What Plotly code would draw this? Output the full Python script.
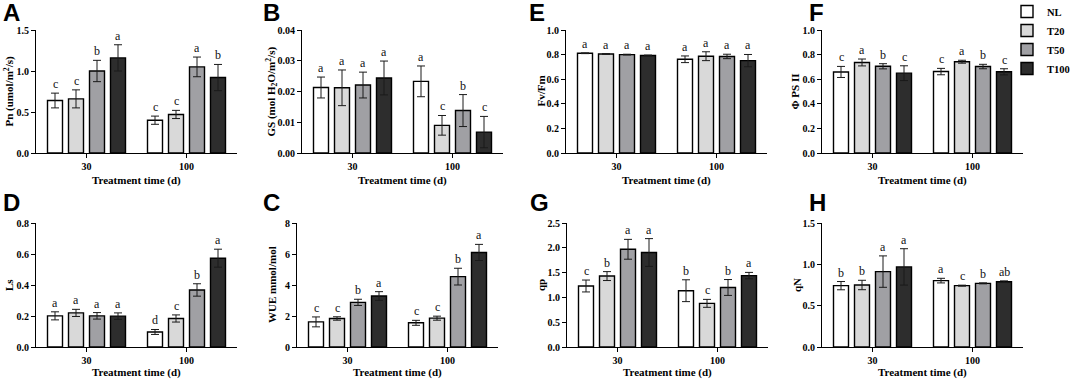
import plotly.graph_objects as go

W, H = 1072, 379

groups = ["30", "100"]
treatments = ["NL", "T20", "T50", "T100"]
fill_colors = ["#ffffff", "#d9d9d9", "#a0a0a4", "#2d2d2d"]

# Each list: one row per treatment (NL, T20, T50, T100), columns = groups (30 d, 100 d)
pn_mean = [[0.64, 0.40], [0.66, 0.47], [1.00, 1.05], [1.16, 0.92]]
pn_err = [[0.09, 0.05], [0.11, 0.05], [0.13, 0.12], [0.16, 0.16]]
pn_sig = [["c", "c"], ["c", "c"], ["b", "a"], ["a", "b"]]

gs_mean = [[0.0213, 0.0233], [0.0212, 0.0090], [0.0221, 0.0138], [0.0244, 0.0068]]
gs_err = [[0.0034, 0.0050], [0.0058, 0.0032], [0.0042, 0.0052], [0.0055, 0.0051]]
gs_sig = [["a", "a"], ["a", "c"], ["a", "b"], ["a", "c"]]

fvfm_mean = [[0.811, 0.762], [0.805, 0.787], [0.800, 0.785], [0.793, 0.751]]
fvfm_err = [[0.003, 0.027], [0.003, 0.036], [0.003, 0.018], [0.003, 0.050]]
fvfm_sig = [["a", "a"], ["a", "a"], ["a", "a"], ["a", "a"]]

phi_mean = [[0.659, 0.662], [0.736, 0.742], [0.705, 0.703], [0.649, 0.660]]
phi_err = [[0.045, 0.026], [0.028, 0.012], [0.021, 0.018], [0.060, 0.025]]
phi_sig = [["c", "c"], ["a", "a"], ["b", "b"], ["c", "c"]]

ls_mean = [[0.201, 0.097], [0.220, 0.184], [0.201, 0.368], [0.199, 0.573]]
ls_err = [[0.026, 0.016], [0.023, 0.023], [0.021, 0.040], [0.021, 0.058]]
ls_sig = [["a", "d"], ["a", "c"], ["a", "b"], ["a", "a"]]

wue_mean = [[1.62, 1.56], [1.84, 1.86], [2.88, 4.54], [3.29, 6.10]]
wue_err = [[0.32, 0.16], [0.11, 0.13], [0.20, 0.54], [0.28, 0.52]]
wue_sig = [["c", "c"], ["c", "c"], ["b", "b"], ["a", "a"]]

qp_mean = [[1.23, 1.135], [1.43, 0.88], [1.97, 1.20], [1.905, 1.44]]
qp_err = [[0.12, 0.22], [0.09, 0.08], [0.20, 0.16], [0.28, 0.064]]
qp_sig = [["c", "b"], ["b", "c"], ["a", "b"], ["a", "a"]]

qn_mean = [[0.742, 0.803], [0.750, 0.742], [0.912, 0.770], [0.969, 0.790]]
qn_err = [[0.050, 0.028], [0.057, 0.006], [0.190, 0.006], [0.220, 0.010]]
qn_sig = [["b", "a"], ["b", "c"], ["a", "b"], ["a", "ab"]]

panel_letters = ["A", "B", "E", "F", "D", "C", "G", "H"]
y_titles = [
    "<b>Pn (umol/m<sup>2</sup>/s)</b>",
    "<b>GS (mol H<sub>2</sub>O/m<sup>2</sup>/s)</b>",
    "<b>Fv/Fm</b>",
    "<b>Φ PS II</b>",
    "<b>Ls</b>",
    "<b>WUE mmol/mol</b>",
    "<b>qp</b>",
    "<b>qN</b>",
]
x_title = "<b>Treatment time (d)</b>"

panels = [
    (pn_mean, pn_err, pn_sig, 1.5, 0.5, ".1f"),
    (gs_mean, gs_err, gs_sig, 0.04, 0.01, ".2f"),
    (fvfm_mean, fvfm_err, fvfm_sig, 1.0, 0.2, ".1f"),
    (phi_mean, phi_err, phi_sig, 1.0, 0.2, ".1f"),
    (ls_mean, ls_err, ls_sig, 0.8, 0.2, ".1f"),
    (wue_mean, wue_err, wue_sig, 8, 2, "d"),
    (qp_mean, qp_err, qp_sig, 2.5, 0.5, ".1f"),
    (qn_mean, qn_err, qn_sig, 1.5, 0.5, ".1f"),
]

# layout geometry (pixels)
axis_x0 = [36, 302, 566, 822, 36, 297, 567, 822]
axis_w = 201
row_top = [30, 223]
row_bot = [153, 347]
letter_pos = [(1, -3), (261, -3), (527, -3), (807, -3), (1, 187), (261, 187), (528, 187), (807, 187)]
ytitle_x = [9, 271, 540, 794, 9, 272, 541, 797]
xtitle_y = [180, 372]

SERIF = "Liberation Serif, Times New Roman, serif"
SANS = "Liberation Sans, Arial, sans-serif"

bargap = 0.16
bargroupgap = 0.286
slot = (1 - bargap) / len(treatments)

fig = go.Figure()
annotations = []
layout = {}

for k, (mean, err, sig, ymax, dtick, fmt) in enumerate(panels):
    n = k + 1
    sfx = "" if n == 1 else str(n)
    row = 0 if k < 4 else 1
    x0 = axis_x0[k]
    for i, tname in enumerate(treatments):
        fig.add_trace(go.Bar(
            x=groups, y=mean[i], name=tname,
            xaxis="x" + sfx, yaxis="y" + sfx,
            marker=dict(color=fill_colors[i], line=dict(color="black", width=1.4)),
            error_y=dict(type="data", array=err[i], visible=True,
                         color="#1a1a1a", thickness=1, width=4),
            showlegend=(k == 0),
        ))
        for g in range(len(groups)):
            annotations.append(dict(
                x=g + (i - 1.5) * slot, y=mean[i][g] + err[i][g],
                xref="x" + sfx, yref="y" + sfx,
                text=sig[i][g], showarrow=False, yanchor="bottom", yshift=0,
                font=dict(family=SERIF, size=12, color="#111111"),
            ))
    layout["xaxis" + sfx] = dict(
        domain=[x0 / W, (x0 + axis_w) / W], anchor="y" + sfx,
        type="category", range=[-0.505, 1.505],
        showline=True, linecolor="black", linewidth=1.2,
        ticks="outside", ticklen=4, tickcolor="black", tickwidth=1,
        tickfont=dict(family=SERIF, size=10, color="black", weight="bold"),
        showgrid=False, zeroline=False, fixedrange=True, automargin=False,
    )
    layout["yaxis" + sfx] = dict(
        domain=[1 - row_bot[row] / H, 1 - row_top[row] / H], anchor="x" + sfx,
        range=[0, ymax], dtick=dtick, tick0=0, tickformat=fmt,
        showline=True, linecolor="black", linewidth=1.2,
        ticks="outside", ticklen=4, tickcolor="black", tickwidth=1,
        tickfont=dict(family=SERIF, size=10, color="black", weight="bold"),
        showgrid=False, zeroline=False, fixedrange=True, automargin=False,
    )
    lx, ly = letter_pos[k]
    annotations.append(dict(
        x=lx / W, y=1 - ly / H, xref="paper", yref="paper",
        xanchor="left", yanchor="top", showarrow=False,
        text="<b>%s</b>" % panel_letters[k],
        font=dict(family=SANS, size=24, color="black"),
    ))
    annotations.append(dict(
        x=ytitle_x[k] / W, y=1 - (row_top[row] + row_bot[row]) / 2 / H,
        xref="paper", yref="paper", xanchor="center", yanchor="middle",
        textangle=-90, showarrow=False, text=y_titles[k],
        font=dict(family=SERIF, size=11, color="black"),
    ))
    annotations.append(dict(
        x=(x0 + axis_w / 2) / W, y=1 - xtitle_y[row] / H,
        xref="paper", yref="paper", xanchor="center", yanchor="middle",
        showarrow=False, text=x_title,
        font=dict(family=SERIF, size=11, color="black"),
    ))

fig.update_layout(
    width=W, height=H,
    margin=dict(l=0, r=0, t=0, b=0, autoexpand=False),
    paper_bgcolor="white", plot_bgcolor="white",
    barmode="group", bargap=bargap, bargroupgap=bargroupgap,
    annotations=annotations,
    legend=dict(x=1007 / W, y=1 + 3 / H, xanchor="left", yanchor="top",
                font=dict(family=SERIF, size=10.5, color="black", weight="bold"),
                tracegroupgap=0, bgcolor="rgba(0,0,0,0)"),
    **layout,
)

fig.write_html(
    "out.html",
    config={"displayModeBar": False},
    post_script="document.body.style.margin='0px';document.body.style.overflow='hidden';",
)
